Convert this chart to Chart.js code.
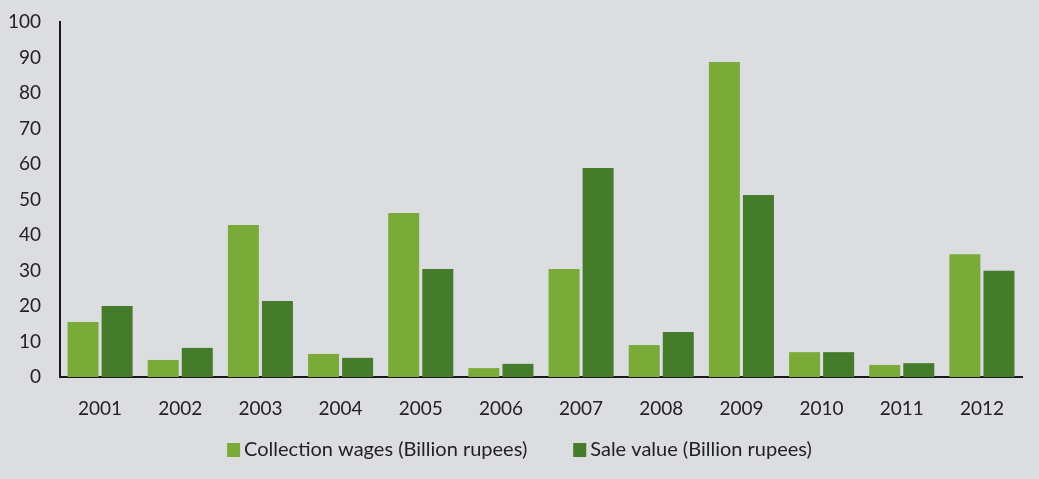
<!DOCTYPE html>
<html>
<head>
<meta charset="utf-8">
<script src="https://cdn.jsdelivr.net/npm/chart.js@4"></script>
<style>
  html, body { margin: 0; padding: 0; background: #dcdde0; }
  #wrap { width: 1039px; height: 479px; position: relative; }
</style>
</head>
<body>
<div id="wrap"><canvas id="fundChart"></canvas></div>
<script>
var years = ['2001', '2002', '2003', '2004', '2005', '2006', '2007', '2008', '2009', '2010', '2011', '2012'];
var collectionWages = [15.5, 4.8, 42.8, 6.5, 46.2, 2.5, 30.4, 9.0, 88.7, 7.0, 3.4, 34.6];
var saleValue = [20.0, 8.2, 21.4, 5.4, 30.4, 3.7, 58.9, 12.7, 51.3, 7.0, 3.9, 29.9];
var yTicks = [0, 10, 20, 30, 40, 50, 60, 70, 80, 90, 100];

var lightGreen = '#7aaa38';
var darkGreen = '#457c2b';
var textColor = '#222222';
var fontFamily = 'Lato, "Liberation Sans", sans-serif';

Chart.defaults.font.family = fontFamily;

// legend row under the axis: small square, tight gap, then the label
var bottomLegend = {
    id: 'bottomLegend',
    afterDraw: function (chart) {
        var ctx = chart.ctx;
        var boxW = 13, boxH = 14, textGap = 4, itemGap = 46, y = 450;
        ctx.save();
        ctx.font = '20px ' + fontFamily;
        ctx.textBaseline = 'middle';
        var items = chart.data.datasets.map(function (ds) {
            return { text: ds.label, color: ds.backgroundColor, w: ctx.measureText(ds.label).width };
        });
        var total = items.reduce(function (s, it) { return s + boxW + textGap + it.w; }, 0) + itemGap * (items.length - 1);
        var x = (chart.width - total) / 2;
        items.forEach(function (it) {
            ctx.fillStyle = it.color;
            ctx.fillRect(x, y - boxH / 2, boxW, boxH);
            ctx.fillStyle = textColor;
            ctx.fillText(it.text, x + boxW + textGap, y);
            x += boxW + textGap + it.w + itemGap;
        });
        ctx.restore();
    }
};

var ctx = document.getElementById('fundChart').getContext('2d');
var chart = new Chart(ctx, {
    type: 'bar',
    data: {
        labels: years,
        datasets: [{
            label: 'Collection wages (Billion rupees)',
            data: collectionWages,
            backgroundColor: lightGreen,
            categoryPercentage: 0.85,
            barPercentage: 0.91
        }, {
            label: 'Sale value (Billion rupees)',
            data: saleValue,
            backgroundColor: darkGreen,
            categoryPercentage: 0.85,
            barPercentage: 0.91
        }]
    },
    options: {
        responsive: true,
        maintainAspectRatio: false,
        animation: false,
        layout: {
            padding: { top: 22, right: 17, left: 0, bottom: 58 }
        },
        scales: {
            x: {
                grid: { display: false, drawTicks: false },
                border: { display: true, color: '#1a1a1a', width: 2 },
                ticks: { color: textColor, font: { size: 19 }, padding: 20 },
                afterFit: function (scale) {
                    scale.height = 44;
                    scale.paddingLeft = 0;
                    scale.paddingRight = 0;
                }
            },
            y: {
                min: 0,
                max: 100,
                grid: { display: false, drawTicks: false },
                border: { display: true, color: '#1a1a1a', width: 2 },
                afterBuildTicks: function (scale) {
                    scale.ticks = yTicks.map(function (v) { return { value: v }; });
                },
                ticks: { color: textColor, font: { size: 19 }, padding: 19 },
                afterFit: function (scale) {
                    scale.width = 60;
                    scale.paddingTop = 0;
                    scale.paddingBottom = 0;
                }
            }
        },
        plugins: {
            legend: { display: false },
            tooltip: { enabled: false }
        }
    },
    plugins: [bottomLegend]
});
</script>
</body>
</html>
